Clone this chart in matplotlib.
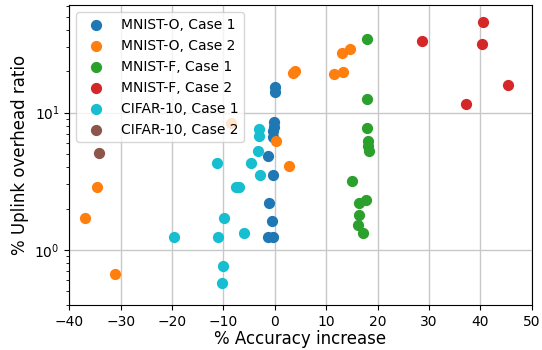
import matplotlib
matplotlib.use('Agg')
import matplotlib.pyplot as plt

# Date (x = % crestere acuratete, y = % overhead uplink)
mo1_x = [0.0, 0.0, -0.1, -0.1, -0.3, -0.4, -1.3, -0.4, -1.1, -0.6, -1.3, -0.3]
mo1_y = [15.5, 14.2, 8.6, 7.9, 7.3, 6.7, 4.8, 3.5, 2.2, 1.63, 1.24, 1.24]

mo2_x = [3.5, 3.9, 11.5, 13.3, 13.1, 14.6, 0.2, 2.8, -8.6, -34.7, -36.9, -31.1]
mo2_y = [19.5, 20.2, 19.0, 19.9, 27.1, 29.3, 6.2, 4.1, 8.4, 2.86, 1.71, 0.665]

mf1_x = [17.9, 17.9, 17.9, 18.1, 18.2, 18.3, 15.0, 17.75, 16.45, 16.4, 16.1, 17.1]
mf1_y = [34.3, 12.5, 7.7, 6.25, 5.7, 5.3, 3.18, 2.31, 2.21, 1.80, 1.52, 1.34]

mf2_x = [40.5, 28.6, 40.3, 45.3, 37.3]
mf2_y = [45.8, 33.3, 31.5, 15.9, 11.6]

c1_x = [-3.0, -3.0, -3.3, -4.7, -2.9, -11.3, -7.55, -6.9, -9.95, -19.6, -11.0, -5.9, -10.1, -10.3]
c1_y = [7.57, 6.77, 5.29, 4.32, 3.52, 4.28, 2.86, 2.86, 1.72, 1.24, 1.24, 1.34, 0.765, 0.572]

c2_x = [-34.2]
c2_y = [5.06]

series = [
    ('MNIST-O, Case 1', mo1_x, mo1_y, 'tab:blue'),
    ('MNIST-O, Case 2', mo2_x, mo2_y, 'tab:orange'),
    ('MNIST-F, Case 1', mf1_x, mf1_y, 'tab:green'),
    ('MNIST-F, Case 2', mf2_x, mf2_y, 'tab:red'),
    ('CIFAR-10, Case 1', c1_x, c1_y, 'tab:cyan'),
    ('CIFAR-10, Case 2', c2_x, c2_y, 'tab:brown'),
]

fig = plt.figure(figsize=(5.42, 3.5), dpi=100)
ax = fig.add_axes([69.3 / 542, 45 / 350, 462.4 / 542, 299.7 / 350])

for label, xs, ys, col in series:
    ax.scatter(xs, ys, s=50, color=col, label=label, zorder=3)

ax.set_yscale('log')
ax.set_xlim(-40, 50)
ax.set_ylim(0.3975, 60.5)
ax.set_axisbelow(True)
ax.grid(True, which='major', color='#c8c8c8', linewidth=1)

ax.set_xlabel('% Accuracy increase', fontsize=12, labelpad=1)
ax.set_ylabel('% Uplink overhead ratio', fontsize=12)
ax.legend(loc='upper left', fontsize=10)

fig.savefig('out.png', dpi=100)
